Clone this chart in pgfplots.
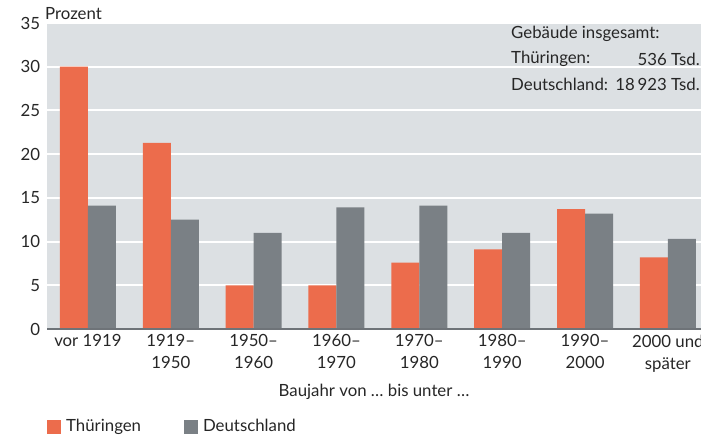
\documentclass[border=0pt]{standalone}
\usepackage{fontspec}
\setmainfont{Lato}
\usepackage{pgfplots}
\pgfplotsset{compat=1.18}
\definecolor{thu}{HTML}{EC6C4C}
\definecolor{deu}{HTML}{7A8085}
\definecolor{bg}{HTML}{DCE0E3}
\definecolor{txt}{HTML}{262626}
\definecolor{axl}{HTML}{6E7378}
\begin{document}
\fontsize{16.8bp}{22bp}\selectfont
\begin{tikzpicture}[text=txt]
\useasboundingbox (0,0) rectangle (701bp,438bp);
\begin{axis}[
  at={(47bp,109bp)}, anchor=south west,
  scale only axis, width=654bp, height=306bp,
  xmin=-0.494, xmax=7.4, ymin=0, ymax=35,
  axis background/.style={fill=bg},
  axis line style={draw=none},
  ymajorgrids, grid style={white, line width=2bp},
  ytick={0,5,...,35},
  major tick length=0pt, tick style={draw=none},
  /pgf/number format/assume math mode=true,
  yticklabel style={xshift=-1bp},
  xtick={0,...,7},
  xticklabels={vor 1919, 1919--\\1950, 1950--\\1960, 1960--\\1970, 1970--\\1980, 1980--\\1990, 1990--\\2000, 2000 und\\später},
  xticklabel style={align=center, yshift=0bp},
  xlabel={Baujahr von \dots\ bis unter \dots},
  xlabel style={at={(axis description cs:0.5,-0.206)}, anchor=center},
  ybar=0pt, bar width=28bp,
  legend style={at={(axis description cs:0.0,-0.32)}, anchor=west, draw=none, fill=none,
    legend columns=2, inner sep=0pt,
    /tikz/every odd column/.append style={column sep=3bp},
    /tikz/every even column/.append style={column sep=41bp}},
  legend image code/.code={\fill[#1] (0bp,-7bp) rectangle (14bp,7bp);},
  clip=false,
]
\addplot[fill=thu, draw=none] coordinates {(0,30.0) (1,21.3) (2,5.0) (3,5.0) (4,7.6) (5,9.1) (6,13.7) (7,8.2)};
\addlegendentry{Thüringen}
\addplot[fill=deu, draw=none] coordinates {(0,14.1) (1,12.5) (2,11.0) (3,13.9) (4,14.1) (5,11.0) (6,13.2) (7,10.3)};
\addlegendentry{Deutschland}
\draw[axl, line width=2bp] (rel axis cs:0,0) -- (rel axis cs:1,0);
\end{axis}
\node[anchor=west, inner sep=0pt] at (45bp,424bp) {Prozent};
\node[anchor=west, inner sep=0pt] at (511bp,404bp) {Gebäude insgesamt:};
\node[anchor=west, inner sep=0pt] at (511bp,379bp) {Thüringen:};
\node[anchor=east, inner sep=0pt] at (700bp,379bp) {536 Tsd.};
\node[anchor=west, inner sep=0pt] at (511bp,354bp) {Deutschland:};
\node[anchor=east, inner sep=0pt] at (700bp,354bp) {18\,923 Tsd.};
\end{tikzpicture}
\end{document}
